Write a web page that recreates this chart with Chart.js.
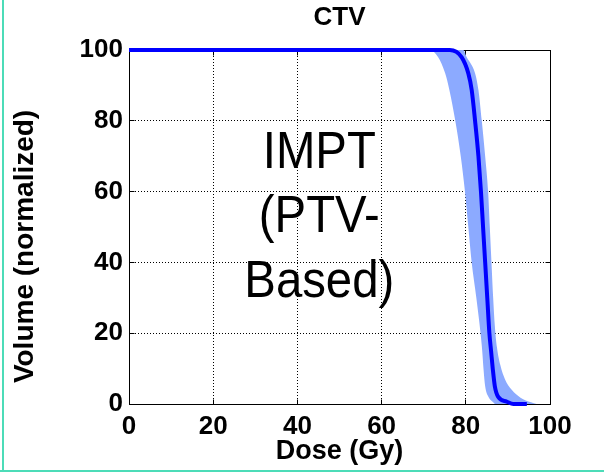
<!DOCTYPE html>
<html><head><meta charset="utf-8">
<script src="https://cdn.jsdelivr.net/npm/chart.js@4.4.1/dist/chart.umd.min.js"></script>
<style>html,body{margin:0;padding:0;background:#fff;overflow:hidden}canvas{display:block}</style>
</head><body>
<canvas id="c" width="604" height="472"></canvas>
<script>
// ---- data ----
const chartTitle = 'CTV';
const xAxisTitle = 'Dose (Gy)';
const yAxisTitle = 'Volume (normalized)';
const annotationLines = ['IMPT', '(PTV-', 'Based)'];
const xTicks = [0, 20, 40, 60, 80, 100];
const yTicks = [0, 20, 40, 60, 80, 100];

// nominal (mean) DVH
const meanDose   = [0, 76.2, 79.0, 80.6, 81.4, 82.2, 83.0, 83.6, 84.1, 84.6, 85.1, 85.6, 86.0, 86.4, 86.9, 87.7, 89.7, 91.3, 94.5];
const meanVolume = [100, 100, 98, 93.4, 88.7, 80, 70, 60, 50, 40, 30, 20, 15, 10, 5, 2, 0.7, 0, 0];
// lower edge of uncertainty band (low-dose side)
const lowDose    = [0, 71.5, 73.4, 75.1, 76.1, 77.5, 78.8, 79.8, 80.6, 81.4, 82.5, 83.5, 83.9, 84.2, 84.6, 85.4, 86.5, 87.0, 96.8];
const lowVolume  = [100, 100, 98, 93.4, 88.7, 80, 70, 60, 50, 40, 30, 20, 15, 10, 5, 2, 0.5, 0, 0];
// upper edge of uncertainty band (high-dose side)
const highDose   = [0, 79.4, 80.2, 82.2, 83.0, 83.8, 84.6, 85.3, 85.7, 86.1, 86.5, 86.9, 87.4, 88.2, 89.3, 90.9, 93.0, 95.5, 96.8];
const highVolume = [100, 100, 98, 93.4, 88.7, 80, 70, 60, 50, 40, 30, 22, 16, 11, 7, 4, 1.8, 0.5, 0];

// annotation anchor (data coordinates)
const annotationDose = 45.2;
const annotationBaselines = [66.7, 48.6, 30.2];

const toPoints = (xs, ys) => xs.map((x, i) => ({x, y: ys[i]}));

const BAND = 'rgb(140,170,255)';
const FONT_FAMILY = '"Liberation Sans", Arial, sans-serif';
const TICK_FONT = {family: FONT_FAMILY, size: 26, weight: 'bold', lineHeight: 1};

const framePlugin = {
  id: 'frame',
  beforeDatasetsDraw(chart) {
    const {ctx, chartArea: a, scales: {x, y}} = chart;
    const L = Math.floor(a.left) + 0.5, R = Math.floor(a.right) + 0.5;
    const T = Math.floor(a.top) + 0.5, B = Math.floor(a.bottom) + 0.5;
    ctx.save();
    ctx.strokeStyle = '#000';
    ctx.lineWidth = 1;
    ctx.strokeRect(L, T, R - L, B - T);
    ctx.beginPath();
    xTicks.forEach(v => {
      const p = Math.floor(x.getPixelForValue(v)) + 0.5;
      ctx.moveTo(p, B); ctx.lineTo(p, B - 5);
      ctx.moveTo(p, T); ctx.lineTo(p, T + 5);
    });
    yTicks.forEach(v => {
      const p = Math.floor(y.getPixelForValue(v)) + 0.5;
      ctx.moveTo(L, p); ctx.lineTo(L + 5, p);
      ctx.moveTo(R, p); ctx.lineTo(R - 5, p);
    });
    ctx.stroke();
    ctx.restore();
  },
  afterDraw(chart) {
    const {ctx, scales: {x, y}} = chart;
    ctx.save();
    ctx.fillStyle = '#000';
    ctx.font = '52px ' + FONT_FAMILY;
    ctx.textAlign = 'center';
    ctx.textBaseline = 'alphabetic';
    const cx = x.getPixelForValue(annotationDose);
    annotationLines.forEach((t, i) => {
      ctx.save();
      ctx.translate(cx, y.getPixelForValue(annotationBaselines[i]));
      ctx.scale(0.91, 1);
      ctx.fillText(t, 0, 0);
      ctx.restore();
    });
    // teal slide frame
    ctx.fillStyle = '#4cdcb8';
    ctx.fillRect(2, 0, 2, 472);
    ctx.fillRect(0, 470, 604, 2);
    ctx.restore();
  }
};

const gridColor = c => (c.tick && (c.tick.value === 0 || c.tick.value === 100)) ? 'rgba(0,0,0,0)' : '#000';

new Chart(document.getElementById('c'), {
  type: 'line',
  data: {
    datasets: [
      {label: 'Nominal', data: toPoints(meanDose, meanVolume), borderColor: '#0000ff', borderWidth: 4,
       pointRadius: 0, fill: false, clip: false, cubicInterpolationMode: 'monotone'},
      {label: 'Band low', data: toPoints(lowDose, lowVolume), borderColor: BAND, borderWidth: 0,
       pointRadius: 0, fill: '+1', backgroundColor: BAND, cubicInterpolationMode: 'monotone'},
      {label: 'Band high', data: toPoints(highDose, highVolume), borderColor: BAND, borderWidth: 0,
       pointRadius: 0, fill: false, cubicInterpolationMode: 'monotone'}
    ]
  },
  options: {
    responsive: false,
    animation: false,
    layout: {padding: {left: 0, right: 54, top: 0, bottom: 0}},
    plugins: {
      legend: {display: false},
      tooltip: {enabled: false},
      title: {display: true, text: chartTitle, fullSize: false, color: '#000',
        font: {family: FONT_FAMILY, size: 26, weight: 'bold', lineHeight: 1},
        padding: {top: 5, bottom: 19}}
    },
    scales: {
      x: {
        type: 'linear', min: 0, max: 100,
        afterBuildTicks: s => { s.ticks = xTicks.map(v => ({value: v})); },
        afterFit: s => { s.height = 68; },
        border: {display: false, dash: [1, 2]},
        grid: {drawTicks: false, lineWidth: 1, color: gridColor},
        ticks: {color: '#000', font: TICK_FONT, padding: 10, maxRotation: 0},
        title: {display: true, text: xAxisTitle, color: '#000',
          font: {family: FONT_FAMILY, size: 27, weight: 'bold', lineHeight: 1},
          padding: {top: 0, bottom: 7}}
      },
      y: {
        type: 'linear', min: 0, max: 100,
        afterBuildTicks: s => { s.ticks = yTicks.map(v => ({value: v})); },
        afterFit: s => { s.width = 129; },
        border: {display: false, dash: [1, 2]},
        grid: {drawTicks: false, lineWidth: 1, color: gridColor},
        ticks: {color: '#000', font: TICK_FONT, padding: 6},
        title: {display: true, text: yAxisTitle + '\u00a0\u00a0\u00a0\u00a0\u00a0', color: '#000',
          font: {family: FONT_FAMILY, size: 28, weight: 'bold', lineHeight: 1},
          padding: {top: 11, bottom: 0}}
      }
    }
  },
  plugins: [framePlugin]
});
</script>
</body></html>
